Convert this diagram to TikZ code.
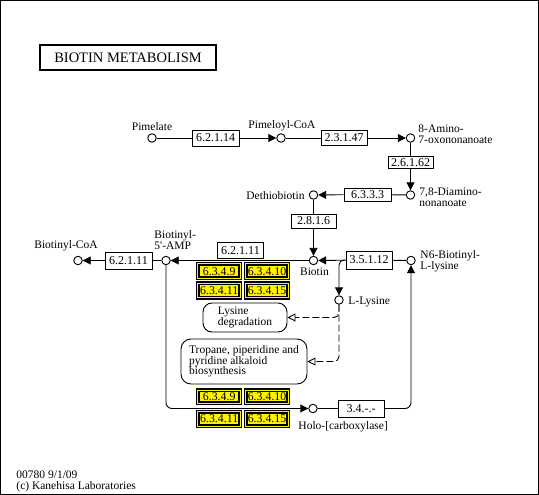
\documentclass[tikz,border=0pt]{standalone}
\usepackage{fontspec}
\setmainfont{Liberation Serif}
\usetikzlibrary{arrows.meta}
\begin{document}
\begin{tikzpicture}[x=1pt,y=-1pt,line width=0.9pt,
  every node/.style={font=\fontsize{11.5}{10.5}\selectfont, inner sep=0pt},
  cpd/.style={circle, draw, fill=white, minimum size=8.5pt},
  enz/.style={rectangle, draw, fill=white, minimum width=46pt, minimum height=16pt, font=\fontsize{12}{12}\selectfont},
  yel/.style={rectangle, draw=black, fill=yellow, double=yellow, line width=1.5pt, double distance=1pt, minimum width=42.5pt, minimum height=14.5pt, font=\fontsize{11.8}{12}\selectfont},
  mapbox/.style={rectangle, draw, rounded corners=9pt, align=left, fill=white},
  lab/.style={anchor=base},
  labw/.style={anchor=base west},
  labe/.style={anchor=base east},
  arr/.style={-{Triangle[length=8pt,width=8pt]}},
  dasharr/.style={dash pattern=on 7pt off 3pt, -{Triangle[open,length=8pt,width=8pt]}}
]
\useasboundingbox (0,0) rectangle (539,495);
\draw[line width=1pt] (0.5,0.5) rectangle (538.5,494.5);

\node[draw, line width=2pt, minimum width=176pt, minimum height=25pt, font=\fontsize{14.5}{14}\selectfont] (title) at (128,57.5) {BIOTIN METABOLISM};

% compounds
\node[cpd] (pim) at (152,138) {};
\node[cpd] (pimcoa) at (281,138) {};
\node[cpd] (aon) at (410.5,138) {};
\node[cpd] (dan) at (410.5,195) {};
\node[cpd] (dtb) at (313.5,195) {};
\node[cpd] (biotin) at (313.5,260.5) {};
\node[cpd] (n6) at (411,260.5) {};
\node[cpd] (lys) at (339,300) {};
\node[cpd] (bamp) at (166,260.5) {};
\node[cpd] (bcoa) at (78,260.5) {};
\node[cpd] (holo) at (313,408.5) {};

% compound labels
\node[lab] (lpim) at (152,131) {Pimelate};
\node[lab] (lpimcoa) at (282,128.5) {Pimeloyl-CoA};
\node[labw] (laon1) at (418,132) {8-Amino-};
\node[labw] (laon2) at (418,143) {7-oxononanoate};
\node[labw] (ldan1) at (419,195.5) {7,8-Diamino-};
\node[labw] (ldan2) at (419,206.5) {nonanoate};
\node[labe] (ldtb) at (305,199) {Dethiobiotin};
\node[lab] (lbiotin) at (314.5,275) {Biotin};
\node[labw] (ln6a) at (420,258.5) {N6-Biotinyl-};
\node[labw] (ln6b) at (420,269.5) {L-lysine};
\node[labw] (llys) at (348,304) {L-Lysine};
\node[labw] (lholo) at (298,429) {Holo-[carboxylase]};
\node[lab] (lbcoa) at (66,248) {Biotinyl-CoA};
\node[labw] (lbamp1) at (154,238) {Biotinyl-};
\node[labw] (lbamp2) at (154,249) {5\textquotesingle-AMP};
\node[labw] (lfoot1) at (16,478) {00780 9/1/09};
\node[labw] (lfoot2) at (16,489) {(c) Kanehisa Laboratories};

% enzymes
\node[enz, minimum width=47pt] (e62114) at (215.5,138) {6.2.1.14};
\node[enz, minimum height=15pt] (e23147) at (344,138) {2.3.1.47};
\node[enz, minimum width=45pt, minimum height=12pt] (e26162) at (410.5,162.5) {2.6.1.62};
\node[enz, minimum width=47pt, minimum height=13pt] (e6333) at (367.5,194.5) {6.3.3.3};
\node[enz, minimum width=45pt, minimum height=14pt] (e2816) at (313.5,221) {2.8.1.6};
\node[enz, minimum width=45.5pt, minimum height=16.5pt] (e62111r) at (240.5,250.3) {6.2.1.11};
\node[enz, minimum height=18pt] (e35112) at (369,260) {3.5.1.12};
\node[enz, minimum width=47pt, minimum height=17pt] (e62111l) at (128.5,260.5) {6.2.1.11};
\node[enz, minimum height=17pt] (e34) at (361,408.5) {3.4.-.-};

% highlighted enzymes
\node[yel] (y1a) at (219.2,271.2) {6.3.4.9};
\node[yel] (y1b) at (267,271.2) {6.3.4.10};
\node[yel] (y1c) at (219.2,290.7) {6.3.4.11};
\node[yel] (y1d) at (267,290.7) {6.3.4.15};
\node[yel, minimum height=13pt] (y2a) at (219.2,396.5) {6.3.4.9};
\node[yel, minimum height=13pt] (y2b) at (267,396.5) {6.3.4.10};
\node[yel] (y2c) at (219.2,419) {6.3.4.11};
\node[yel] (y2d) at (267,419) {6.3.4.15};

% maps
\node[mapbox, minimum width=84pt, minimum height=29pt] (lysdeg) at (245,317.5) {Lysine\\degradation};
\node[mapbox, minimum width=126pt, minimum height=45pt, rounded corners=10pt] (tropane) at (244,361.5) {Tropane, piperidine and\\pyridine alkaloid\\biosynthesis};

% reactions
\draw (pim) -- (e62114);
\draw[arr] (e62114) -- (pimcoa);
\draw (pimcoa) -- (e23147);
\draw[arr] (e23147) -- (aon);
\draw (aon) -- (e26162);
\draw[arr] (e26162) -- (dan);
\draw (dan) -- (e6333);
\draw[arr] (e6333) -- (dtb);
\draw (dtb) -- (e2816);
\draw[arr] (e2816) -- (biotin);
\draw (n6) -- (e35112);
\draw[arr] (e35112) -- (biotin);
\draw[arr, rounded corners=5pt] (e35112.west) -| (lys);
\draw[arr] (biotin) -- (bamp);
\draw (bamp) -- (e62111l);
\draw[arr] (e62111l) -- (bcoa);
\draw[arr, rounded corners=6pt] (bamp) |- (holo);
\draw (holo) -- (e34);
\draw[arr, rounded corners=6pt] (e34) -| (n6);
\draw[dasharr, rounded corners=5pt] (lys) |- (lysdeg);
\draw[dasharr, rounded corners=5pt] (lys) |- (tropane);
\end{tikzpicture}
\end{document}
